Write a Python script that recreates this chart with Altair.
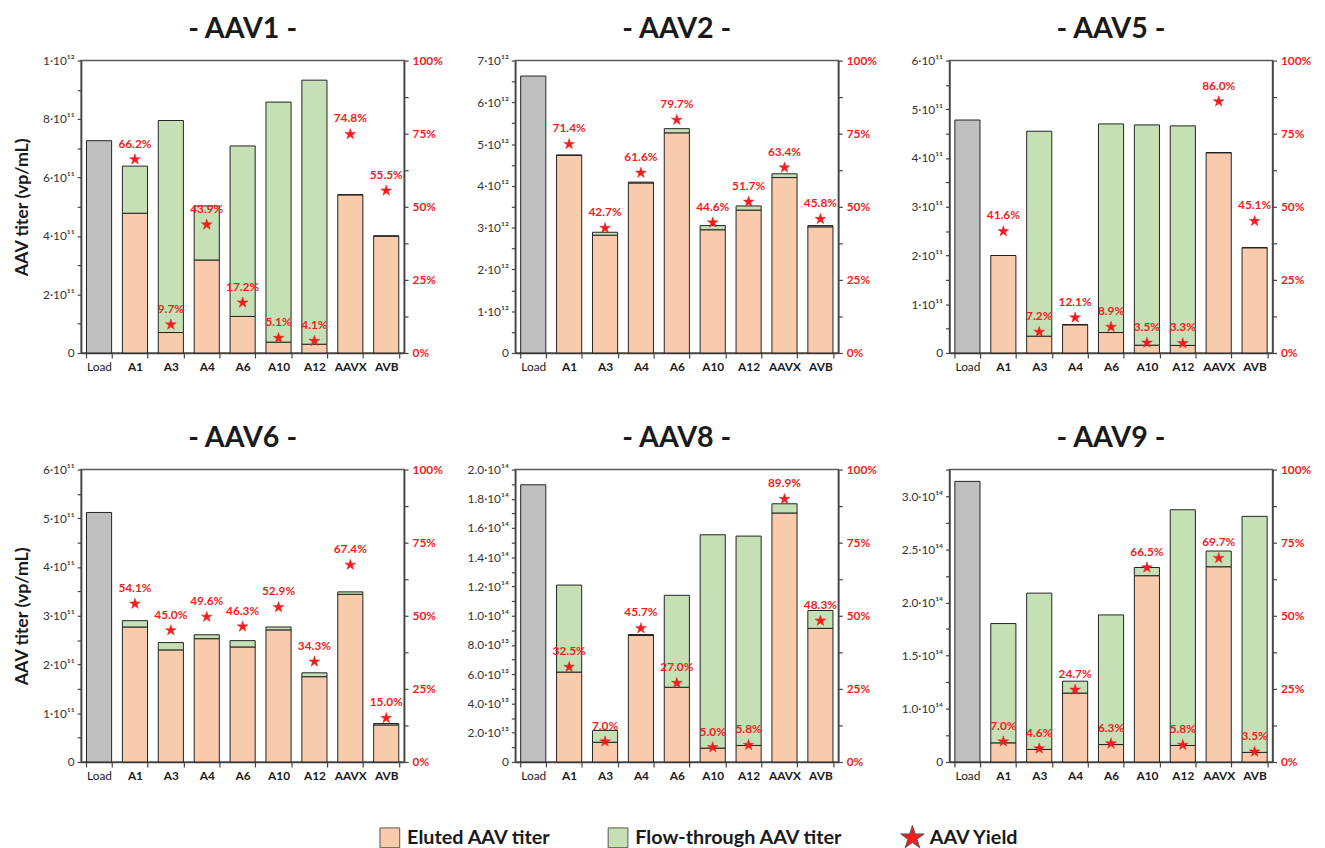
import altair as alt
import pandas as pd

# ---------------- data ----------------
categories = ["Load", "A1", "A3", "A4", "A6", "A10", "A12", "AAVX", "AVB"]
samples = ["A1", "A3", "A4", "A6", "A10", "A12", "AAVX", "AVB"]

panel_names = ["AAV1", "AAV2", "AAV5", "AAV6", "AAV8", "AAV9"]

aav1_load = 7.26e11
aav1_eluted = [4.78e11, 0.70e11, 3.18e11, 1.25e11, 0.37e11, 0.30e11, 5.41e11, 4.00e11]
aav1_flow = [1.61e11, 7.25e11, 1.85e11, 5.83e11, 8.21e11, 9.03e11, 0.0, 0.0]
aav1_yield = [66.2, 9.7, 43.9, 17.2, 5.1, 4.1, 74.8, 55.5]

aav2_load = 6.63e12
aav2_eluted = [4.73e12, 2.82e12, 4.07e12, 5.27e12, 2.95e12, 3.42e12, 4.20e12, 3.02e12]
aav2_flow = [0.01e12, 0.07e12, 0.02e12, 0.10e12, 0.10e12, 0.10e12, 0.09e12, 0.03e12]
aav2_yield = [71.4, 42.7, 61.6, 79.7, 44.6, 51.7, 63.4, 45.8]

aav5_load = 4.78e11
aav5_eluted = [2.00e11, 0.345e11, 0.58e11, 0.42e11, 0.16e11, 0.155e11, 4.11e11, 2.16e11]
aav5_flow = [0.0, 4.205e11, 0.0, 4.28e11, 4.52e11, 4.505e11, 0.0, 0.0]
aav5_yield = [41.6, 7.2, 12.1, 8.9, 3.5, 3.3, 86.0, 45.1]

aav6_load = 5.12e11
aav6_eluted = [2.77e11, 2.30e11, 2.53e11, 2.36e11, 2.71e11, 1.75e11, 3.44e11, 0.76e11]
aav6_flow = [0.13e11, 0.15e11, 0.08e11, 0.13e11, 0.06e11, 0.08e11, 0.05e11, 0.03e11]
aav6_yield = [54.1, 45.0, 49.6, 46.3, 52.9, 34.3, 67.4, 15.0]

aav8_load = 1.896e14
aav8_eluted = [0.615e14, 0.135e14, 0.865e14, 0.511e14, 0.095e14, 0.113e14, 1.703e14, 0.914e14]
aav8_flow = [0.595e14, 0.081e14, 0.007e14, 0.629e14, 1.459e14, 1.432e14, 0.063e14, 0.122e14]
aav8_yield = [32.5, 7.0, 45.7, 27.0, 5.0, 5.8, 89.9, 48.3]

aav9_load = 2.639e14
aav9_eluted = [0.180e14, 0.118e14, 0.648e14, 0.164e14, 1.752e14, 0.155e14, 1.836e14, 0.090e14]
aav9_flow = [1.122e14, 1.470e14, 0.112e14, 1.219e14, 0.077e14, 2.217e14, 0.148e14, 2.220e14]
aav9_yield = [7.0, 4.6, 24.7, 6.3, 66.5, 5.8, 69.7, 3.5]

# left-axis tick labels (blank = minor tick)
aav1_ticks = ["0", "", "2·10¹¹", "", "4·10¹¹", "", "6·10¹¹", "", "8·10¹¹", "", "1·10¹²"]
aav2_ticks = ["0", "", "1·10¹²", "", "2·10¹²", "", "3·10¹²", "", "4·10¹²", "", "5·10¹²", "", "6·10¹²", "", "7·10¹²"]
aav5_ticks = ["0", "", "1·10¹¹", "", "2·10¹¹", "", "3·10¹¹", "", "4·10¹¹", "", "5·10¹¹", "", "6·10¹¹"]
aav6_ticks = ["0", "", "1·10¹¹", "", "2·10¹¹", "", "3·10¹¹", "", "4·10¹¹", "", "5·10¹¹", "", "6·10¹¹"]
aav8_ticks = ["0", "", "2.0·10¹³", "", "4.0·10¹³", "", "6.0·10¹³", "", "8.0·10¹³", "", "1.0·10¹⁴",
              "", "1.2·10¹⁴", "", "1.4·10¹⁴", "", "1.6·10¹⁴", "", "1.8·10¹⁴", "", "2.0·10¹⁴"]
aav9_ticks = ["0", "", "1.0·10¹⁴", "", "1.5·10¹⁴", "", "2.0·10¹⁴", "", "2.5·10¹⁴", "", "3.0·10¹⁴", ""]

series_domain = ["Load", "Eluted AAV titer", "Flow-through AAV titer", "AAV Yield"]
legend_items = ["Eluted AAV titer", "Flow-through AAV titer", "AAV Yield"]

# ---------------- style ----------------
FONT = "Lato"
RED = "#F21D1D"
series_colors = ["#BFBFBF", "#F8CBAD", "#C5E0B4", RED]
STAR = ("M0,-1.25L0.281,-0.386L1.189,-0.386L0.454,0.148L0.735,1.011L0,0.478"
        "L-0.735,1.011L-0.454,0.148L-1.189,-0.386L-0.281,-0.386Z")
shape_range = ["square", "square", "square", STAR]

W, H = 327, 296

legend_def = alt.Legend(
    title=None, values=legend_items, orient="none", direction="horizontal",
    legendX=302, legendY=776, symbolSize=400, symbolStrokeColor="#555555",
    symbolStrokeWidth=1, labelFont=FONT, labelFontSize=20, labelFontWeight="bold",
    labelColor="#1a1a1a", columnPadding=55, labelOffset=7, labelLimit=400,
)

fill_enc = alt.Fill("series:N", scale=alt.Scale(domain=series_domain, range=series_colors),
                    legend=legend_def)


def make_panel(name, load, eluted, flow, yields, ymax, step, tick_labels, y_title):
    rows = [{"cat": "Load", "series": "Load", "val": load, "ord": 0}]
    for c, e, f in zip(samples, eluted, flow):
        rows.append({"cat": c, "series": "Eluted AAV titer", "val": e, "ord": 0})
        rows.append({"cat": c, "series": "Flow-through AAV titer", "val": f, "ord": 1})
    bars_df = pd.DataFrame(rows)
    yld_df = pd.DataFrame({"cat": samples, "yield": yields, "series": ["AAV Yield"] * len(samples)})

    tick_vals = [i * step for i in range(len(tick_labels))]
    vals_js = "[" + ",".join(repr(float(v)) for v in tick_vals) + "]"
    labs_js = "[" + ",".join("'" + s + "'" for s in tick_labels) + "]"
    label_expr = f"{labs_js}[indexof({vals_js}, datum.value)]"

    x_enc = alt.X(
        "cat:N", sort=categories,
        scale=alt.Scale(domain=categories, paddingInner=0.3, paddingOuter=0.15),
        axis=alt.Axis(title=None, labelAngle=0, tickBand="extent", tickSize=5,
                      labelFont=FONT, labelFontSize=12, labelColor="#1a1a1a",
                      labelFontWeight={"condition": {"test": "datum.value === 'Load'", "value": "normal"},
                                       "value": "bold"},
                      labelPadding=4, domainColor="#444444", domainWidth=1.5,
                      tickColor="#444444", tickWidth=1.2),
    )

    left_axis = alt.Axis(
        orient="left", values=tick_vals, labelExpr=label_expr, tickSize=4,
        labelFont=FONT, labelFontSize=12, labelColor="#333333", labelPadding=3,
        domainColor="#444444", domainWidth=1.5, tickColor="#444444", tickWidth=1.2,
        grid=False, title=y_title if y_title else None,
        titleFont=FONT, titleFontSize=18, titleFontWeight="bold", titleColor="#1a1a1a",
        titlePadding=11,
    )

    bars = alt.Chart(bars_df).mark_bar(stroke="#222222", strokeWidth=1).encode(
        x=x_enc,
        y=alt.Y("val:Q", stack="zero",
                scale=alt.Scale(domain=[0, ymax], nice=False, zero=True),
                axis=left_axis),
        fill=fill_enc,
        order=alt.Order("ord:Q"),
    )

    right_axis = alt.Axis(
        orient="right", values=[i * 12.5 for i in range(9)],
        labelExpr="datum.value % 25 == 0 ? datum.value + '%' : ''",
        tickSize=4, labelFont=FONT, labelFontSize=12, labelFontWeight="bold",
        labelColor=RED, labelPadding=4, domainColor="#444444", domainWidth=1.5,
        tickColor="#444444", tickWidth=1.2, grid=False, title=None,
    )
    y_yield = alt.Y("yield:Q", scale=alt.Scale(domain=[0, 100], nice=False), axis=right_axis)

    stars = alt.Chart(yld_df).mark_point(filled=True, opacity=1, size=85, stroke=RED,
                                         strokeWidth=0.5).encode(
        x=x_enc, y=y_yield, fill=fill_enc,
        shape=alt.Shape("series:N", scale=alt.Scale(domain=series_domain, range=shape_range),
                        legend=legend_def),
    )
    labels = alt.Chart(yld_df).transform_calculate(
        label="format(datum.yield, '.1f') + '%'"
    ).mark_text(dy=-16, font=FONT, fontSize=12, fontWeight="bold", color=RED).encode(
        x=x_enc, y=y_yield, text="label:N",
    )

    yld_layer = alt.layer(stars, labels)
    return alt.layer(bars, yld_layer).resolve_scale(y="independent").properties(
        width=W, height=H,
        title=alt.Title(f"- {name} -", font=FONT, fontSize=29, fontWeight="bold",
                        color="#1a1a1a", anchor="middle", offset=11),
    )


p1 = make_panel("AAV1", aav1_load, aav1_eluted, aav1_flow, aav1_yield, 1e12, 1e11, aav1_ticks, "AAV titer (vp/mL)")
p2 = make_panel("AAV2", aav2_load, aav2_eluted, aav2_flow, aav2_yield, 7e12, 0.5e12, aav2_ticks, None)
p3 = make_panel("AAV5", aav5_load, aav5_eluted, aav5_flow, aav5_yield, 6e11, 0.5e11, aav5_ticks, None)
p4 = make_panel("AAV6", aav6_load, aav6_eluted, aav6_flow, aav6_yield, 6e11, 0.5e11, aav6_ticks, "AAV titer (vp/mL)")
p5 = make_panel("AAV8", aav8_load, aav8_eluted, aav8_flow, aav8_yield, 2e14, 1e13, aav8_ticks, None)
p6 = make_panel("AAV9", aav9_load, aav9_eluted, aav9_flow, aav9_yield, 2.75e14, 0.25e14, aav9_ticks, None)

chart = alt.concat(p1, p2, p3, p4, p5, p6, columns=3, bounds="flush",
                   spacing={"row": 118, "column": 112.5}).properties(
    padding={"left": 5, "top": 1, "right": 5, "bottom": 5},
    background="white",
).configure_view(stroke="#5a5a5a", strokeWidth=1.5)

chart.save("out.html", embed_options={"renderer": "svg", "actions": False})
